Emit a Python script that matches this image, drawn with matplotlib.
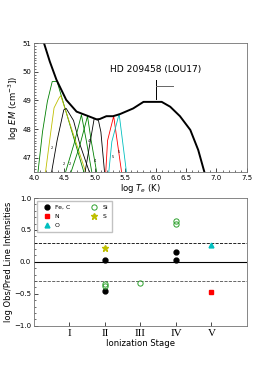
import numpy as np
import matplotlib
matplotlib.use("Agg")
import matplotlib.pyplot as plt
from matplotlib.ticker import MultipleLocator

# ---- top panel: EM distribution ----
em_T = [4.165, 4.26, 4.37, 4.53, 4.70, 4.92, 5.03, 5.08, 5.19, 5.30, 5.41,
        5.63, 5.80, 6.10, 6.24, 6.40, 6.57, 6.70, 6.80]
em_val = [51.0, 50.36, 49.72, 49.02, 48.61, 48.43, 48.34, 48.35, 48.45, 48.45,
          48.52, 48.72, 48.95, 48.95, 48.78, 48.45, 47.97, 47.27, 46.51]

# contribution-function loci (logT, logEM) per line
loci_colors = ['g', 'y', 'k', 'g', 'g', 'k', 'r', 'c']
loci_T = [
    [4.066, 4.14, 4.22, 4.30, 4.38, 4.82],
    [4.19, 4.27, 4.33, 4.41, 4.44, 4.85],
    [4.29, 4.38, 4.49, 4.53, 4.65, 4.75, 4.91],
    [4.52, 4.66, 4.78, 4.86, 4.95],
    [4.61, 4.75, 4.88, 4.94, 5.03],
    [4.84, 4.99, 5.06, 5.10, 5.16],
    [5.18, 5.21, 5.31, 5.44],
    [5.23, 5.28, 5.40, 5.52],
]
loci_EM = [
    [46.5, 47.9, 48.96, 49.66, 49.66, 46.5],
    [46.5, 47.8, 48.74, 49.08, 49.17, 46.5],
    [46.5, 47.6, 48.67, 48.72, 48.3, 47.5, 46.5],
    [46.5, 47.5, 48.5, 47.6, 46.5],
    [46.5, 47.4, 48.45, 47.6, 46.5],
    [46.5, 48.37, 48.3, 47.9, 46.5],
    [46.5, 47.6, 48.45, 46.5],
    [46.5, 47.56, 48.53, 46.5],
]
ion_lbl = ['2', '2', '2', '4', '4', '5', '5']
ion_lbl_T = [4.30, 4.49, 4.59, 4.90, 5.00, 5.30, 5.40]
ion_lbl_EM = [47.33, 46.77, 46.77, 47.58, 46.88, 47.04, 47.21]

# ---- bottom panel: ratios ----
stage_ticks = [1, 2, 3, 4, 5]
stage_names = ['I', 'II', 'III', 'IV', 'V']
fec_x = [2, 2, 4, 4]
fec_y = [0.03, -0.45, 0.16, 0.03]
n_x = [5]
n_y = [-0.47]
o_x = [5]
o_y = [0.27]
si_x = [2, 2, 3, 4, 4]
si_y = [-0.35, -0.37, -0.33, 0.64, 0.60]
s_x = [2]
s_y = [0.22]

plt.rcParams['font.family'] = ['DejaVu Sans']
fig = plt.figure(figsize=(2.74, 3.66), dpi=100)

ax1 = fig.add_axes([0.124, 0.530, 0.777, 0.352])
for xs, ys, c in zip(loci_T, loci_EM, loci_colors):
    ax1.plot(xs, ys, color=c, lw=0.6)
for t, xx, yy in zip(ion_lbl, ion_lbl_T, ion_lbl_EM):
    ax1.text(xx, yy, t, fontsize=2.5, ha='center', va='center')
ax1.plot(em_T, em_val, color='k', lw=1.4)
ax1.plot([6.0, 6.0], [49.04, 49.7], color='k', lw=0.7)
ax1.plot([6.0, 6.28], [49.5, 49.5], color='0.4', lw=0.7)
ax1.text(6.0, 50.07, 'HD 209458 (LOU17)', fontsize=6.6, ha='center', va='center')
ax1.set_xlim(4.0, 7.5)
ax1.set_ylim(46.5, 51)
ax1.set_yticks([47, 48, 49, 50, 51])
ax1.xaxis.set_minor_locator(MultipleLocator(0.1))
ax1.yaxis.set_minor_locator(MultipleLocator(0.1))
ax1.set_xlabel('log $T_e$ (K)', fontsize=6.1, labelpad=1)
ax1.set_ylabel('log $EM$ (cm$^{-3}$])', fontsize=6.1, labelpad=1)

ax2 = fig.add_axes([0.124, 0.110, 0.777, 0.349])
ax2.axhline(0, color='k', lw=0.8)
ax2.axhline(0.3, color='k', lw=0.6, ls='--')
ax2.axhline(-0.3, color='0.3', lw=0.6, ls='--')
ax2.plot(fec_x, fec_y, 'o', color='k', ms=3.5, label='Fe, C', ls='none')
ax2.plot(n_x, n_y, 's', color='r', ms=3.5, label='N', ls='none')
ax2.plot(o_x, o_y, '^', color='c', ms=3.5, label='O', ls='none')
ax2.plot(si_x, si_y, 'o', mfc='none', mec='tab:green', mew=0.7, ms=3.8,
         label='Si', ls='none')
ax2.plot(s_x, s_y, '*', color='y', ms=4.5, label='S', ls='none')
ax2.set_xlim(0, 6)
ax2.set_ylim(-1, 1)
ax2.set_xticks(stage_ticks)
ax2.set_xticklabels(stage_names, fontfamily='Liberation Serif', fontsize=8)
ax2.set_yticks([-1.0, -0.5, 0.0, 0.5, 1.0])
ax2.yaxis.set_minor_locator(MultipleLocator(0.1))
ax2.set_xlabel('Ionization Stage', fontsize=6.1, labelpad=1)
ax2.set_ylabel('log Obs/Pred Line Intensities', fontsize=6.0, labelpad=1)
ax2.legend(loc='upper left', ncol=2, fontsize=4.4, frameon=True,
           borderpad=0.6, handletextpad=0.3, columnspacing=3.0,
           labelspacing=0.6, fancybox=False, edgecolor='0.7')

for ax in (ax1, ax2):
    ax.tick_params(direction='in', labelsize=5, length=3, width=0.5, pad=2)
    ax.tick_params(which='minor', direction='in', length=1.5, width=0.4)
    for sp in ax.spines.values():
        sp.set_color('0.45')
        sp.set_linewidth(0.6)
ax2.tick_params(axis='x', labelsize=8)

fig.savefig('out.png', dpi=100)
